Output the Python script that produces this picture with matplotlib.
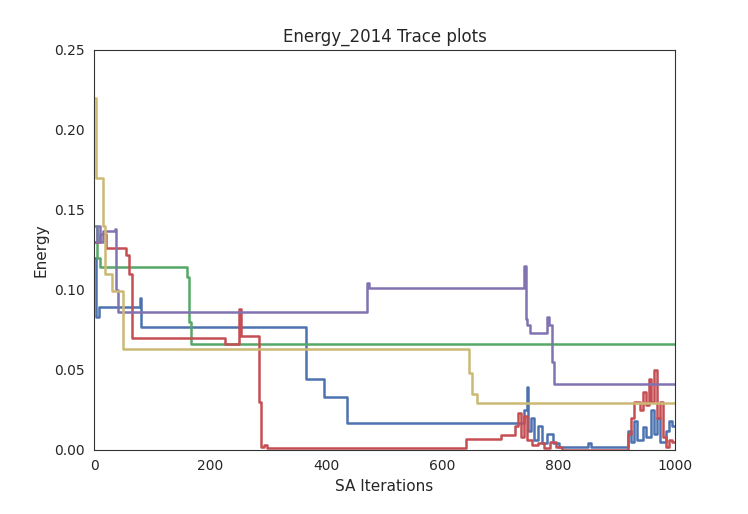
import matplotlib
matplotlib.use("Agg")
import matplotlib.pyplot as plt
import seaborn as sns

sns.set_style("white")
plt.rcParams['font.family'] = ['DejaVu Sans']

# step traces: (iteration where value starts, energy)
blue_x = [0, 3, 8, 78, 81, 365, 395, 435, 740, 745, 748, 752, 758, 765, 772, 780, 790, 800, 850, 855, 920, 925, 930, 935, 945, 950, 960, 965, 970, 975, 985, 990, 995]
blue_y = [0.12, 0.083, 0.089, 0.095, 0.077, 0.044, 0.033, 0.017, 0.025, 0.039, 0.012, 0.02, 0.006, 0.015, 0.004, 0.01, 0.004, 0.002, 0.004, 0.002, 0.012, 0.005, 0.018, 0.006, 0.014, 0.008, 0.025, 0.01, 0.02, 0.005, 0.012, 0.018, 0.015]

green_x = [0, 5, 10, 160, 163, 166]
green_y = [0.14, 0.12, 0.114, 0.108, 0.08, 0.066]

red_x = [0, 10, 20, 55, 60, 65, 225, 250, 253, 283, 288, 292, 298, 640, 700, 725, 730, 735, 740, 745, 755, 765, 775, 785, 795, 805, 920, 925, 930, 940, 945, 950, 955, 960, 965, 970, 975, 980, 985, 990, 995]
red_y = [0.13, 0.135, 0.126, 0.122, 0.11, 0.07, 0.066, 0.088, 0.071, 0.03, 0.002, 0.003, 0.001, 0.007, 0.009, 0.015, 0.023, 0.008, 0.021, 0.006, 0.003, 0.004, 0.001, 0.005, 0.002, 0.0, 0.01, 0.02, 0.03, 0.025, 0.036, 0.028, 0.044, 0.03, 0.05, 0.02, 0.03, 0.008, 0.002, 0.006, 0.005]

purple_x = [0, 5, 10, 15, 35, 38, 41, 470, 473, 740, 743, 746, 750, 780, 784, 788, 792]
purple_y = [0.13, 0.14, 0.13, 0.137, 0.138, 0.1, 0.086, 0.104, 0.101, 0.115, 0.082, 0.078, 0.073, 0.083, 0.078, 0.055, 0.041]

yellow_x = [0, 3, 15, 18, 30, 45, 50, 645, 650, 660]
yellow_y = [0.22, 0.17, 0.14, 0.11, 0.099, 0.099, 0.063, 0.048, 0.035, 0.029]

colors = ["#4C72B0", "#55A868", "#C44E52", "#8172B2", "#CCB974"]
series = [(blue_x, blue_y), (green_x, green_y), (red_x, red_y),
          (purple_x, purple_y), (yellow_x, yellow_y)]

fig = plt.figure(figsize=(7.48, 5.14), dpi=100)
ax = fig.add_axes([0.126, 0.125, 0.776, 0.778])
for (xs, ys), c in zip(series, colors):
    ax.plot(xs + [1000], ys + [ys[-1]], drawstyle='steps-post', color=c, lw=1.8)

ax.set_xlim(0, 1000)
ax.set_ylim(0, 0.25)
ax.set_xticks([0, 200, 400, 600, 800, 1000])
ax.set_yticks([0, 0.05, 0.1, 0.15, 0.2, 0.25])
ax.set_yticklabels(["0.00", "0.05", "0.10", "0.15", "0.20", "0.25"])
ax.tick_params(labelsize=10)
ax.set_xlabel('SA Iterations', fontsize=11)
ax.set_ylabel('Energy', fontsize=11)
ax.set_title('Energy_2014 Trace plots', fontsize=12)
for s in ax.spines.values():
    s.set_color('#333333')
fig.savefig('out.png')
